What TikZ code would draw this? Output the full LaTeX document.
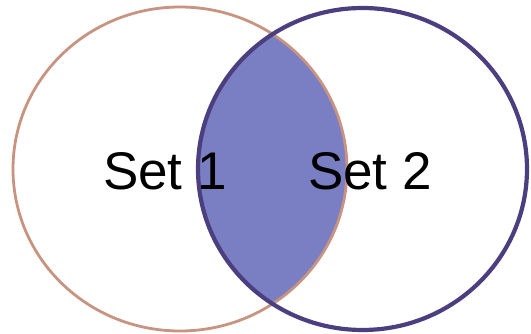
\documentclass[tikz,border=0pt]{standalone}
\usepackage{fontspec}
\setmainfont{Liberation Sans}
\definecolor{setonecol}{HTML}{C89482}
\definecolor{settwocol}{HTML}{4B3F80}
\definecolor{lenscol}{HTML}{7A7EC2}
\begin{document}
\begin{tikzpicture}[x=1pt,y=1pt]
\useasboundingbox (0,0) rectangle (531,334);
\coordinate (c1) at (180,165);
\coordinate (c2) at (362.5,165);
\begin{scope}
  \clip (c1) ellipse [x radius=167, y radius=162];
  \fill[lenscol] (c2) ellipse [x radius=164.5, y radius=161];
\end{scope}
\draw[setonecol,line width=2.8pt] (c1) ellipse [x radius=167, y radius=162];
\draw[settwocol,line width=4.2pt] (c2) ellipse [x radius=164.5, y radius=161];
\node[font=\fontsize{53}{60}\selectfont] (s1) at (165,163) {Set 1};
\node[font=\fontsize{53}{60}\selectfont] (s2) at (370,163) {Set 2};
\end{tikzpicture}
\end{document}
